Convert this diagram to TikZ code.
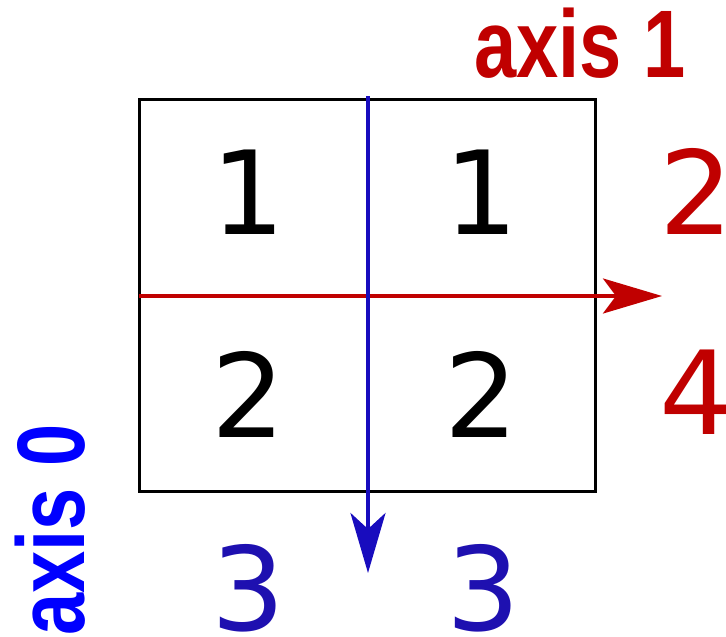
\documentclass[tikz,border=0pt]{standalone}
\usepackage{fontspec}
\setmainfont{DejaVu Sans}
\newfontfamily\labelfont{Liberation Sans}
\usetikzlibrary{arrows.meta}
\definecolor{axred}{RGB}{192,0,0}
\definecolor{axblue}{RGB}{24,12,190}
\definecolor{numblue}{RGB}{30,16,176}
\definecolor{labblue}{RGB}{0,0,255}
\tikzset{
  digit/.style={inner sep=0pt, font=\fontsize{116}{116}\selectfont},
  axislabel/.style={inner sep=0pt, font=\labelfont\bfseries\fontsize{96}{96}\selectfont},
  boxline/.style={line width=3pt, black},
  redaxis/.style={line width=3.5pt, axred, -{Stealth[length=59pt,width=35pt,inset=13pt]}},
  blueaxis/.style={line width=4pt, axblue, -{Stealth[length=60pt,width=35pt,inset=16pt]}},
}
\begin{document}
\begin{tikzpicture}[x=1pt,y=-1pt]
\useasboundingbox (0,0) rectangle (726,637);
% grid box
\draw[boxline] (139,99) rectangle (595,491);
% coordinates for axes
\coordinate (hstart) at (139,296);
\coordinate (hend) at (662,296);
\coordinate (vstart) at (368,96);
\coordinate (vend) at (368,573);
\draw[redaxis] (hstart) -- (hend);
\draw[blueaxis] (vstart) -- (vend);
% cell values
\node[digit] (a11) at (248,192) {1};
\node[digit] (a12) at (481,192) {1};
\node[digit] (a21) at (248,394) {2};
\node[digit] (a22) at (481,394) {2};
% sums
\node[digit, axred] (s1) at (696,191) {2};
\node[digit, axred] (s2) at (696,392) {4};
\node[digit, numblue] (c1) at (248,588) {3};
\node[digit, numblue] (c2) at (483,588) {3};
% axis labels
\node[axislabel, axred, xscale=0.79] (ax1) at (580,43) {axis 1};
\node[axislabel, labblue, rotate=90, xscale=0.79] (ax0) at (50,530) {axis 0};
\end{tikzpicture}
\end{document}
